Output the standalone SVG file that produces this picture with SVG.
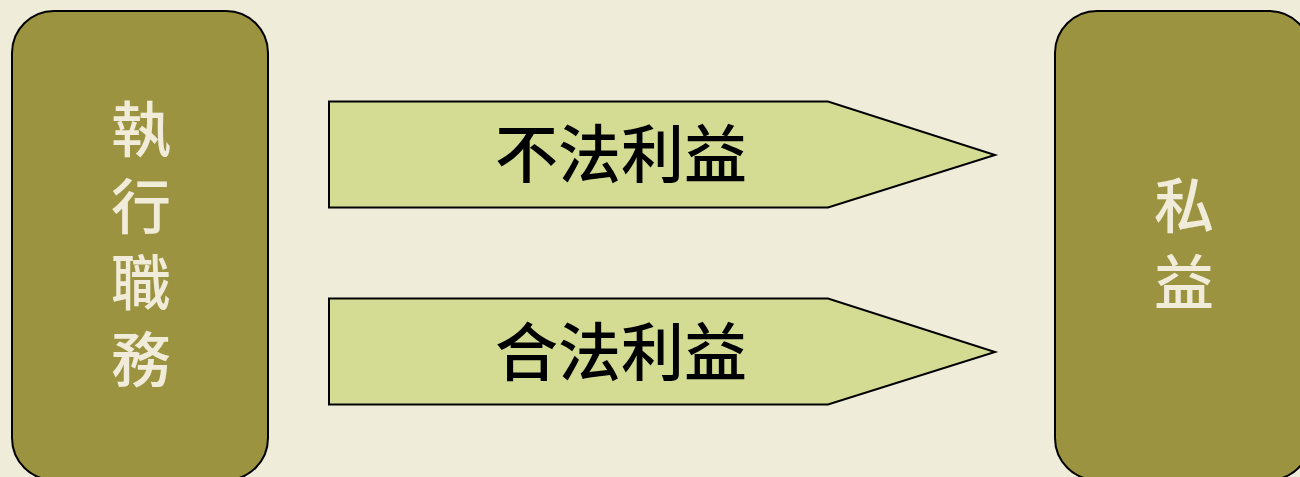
<svg xmlns="http://www.w3.org/2000/svg" width="1300" height="477" viewBox="0 0 1300 477">
<style>
.box{fill:#9B9340;stroke:#000;stroke-width:2}
.arr{fill:#D4DC94;stroke:#000;stroke-width:2}
.bt{font-family:"Noto Sans CJK TC","Noto Sans CJK SC",sans-serif;font-size:60px;font-weight:500;fill:#F0ECD9;text-anchor:middle}
.at{font-family:"Noto Sans CJK TC","Noto Sans CJK SC",sans-serif;font-size:63px;font-weight:500;fill:#000;text-anchor:middle}
</style>
<rect width="1300" height="477" fill="#EFECDA"/>
<g id="left">
<rect class="box" x="12" y="11" width="256" height="469" rx="42"/>
<text class="bt"><tspan x="141" y="152">執</tspan><tspan x="141" y="229">行</tspan><tspan x="141" y="305">職</tspan><tspan x="141" y="382">務</tspan></text>
</g>
<g id="right">
<rect class="box" x="1055" y="11" width="256" height="469" rx="42"/>
<text class="bt"><tspan x="1184" y="228">私</tspan><tspan x="1184" y="305">益</tspan></text>
</g>
<g id="connectors">
<g id="illegal">
<polygon class="arr" points="329,101.5 828,101.5 995,155 828,207.5 329,207.5"/>
<text class="at" x="621" y="177">不法利益</text>
</g>
<g id="legal">
<polygon class="arr" points="329,298.5 828,298.5 995,352 828,404.5 329,404.5"/>
<text class="at" x="621" y="375">合法利益</text>
</g>
</g>
</svg>
